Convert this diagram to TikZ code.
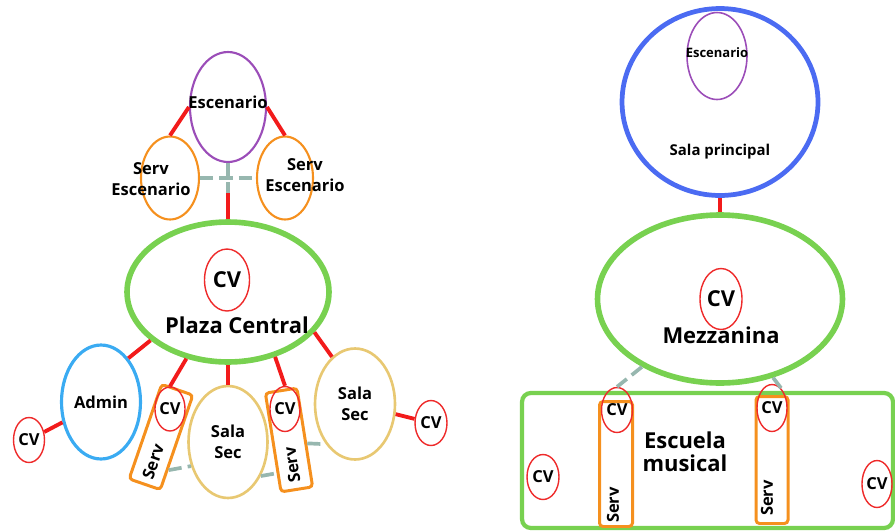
\documentclass[tikz,border=0pt]{standalone}
\usepackage{fontspec}
\setmainfont{Open Sans}
\usepackage{tikz}
\usetikzlibrary{positioning,shapes,calc}
\newcommand{\plansmall}{\fontsize{9.4}{12}\selectfont\bfseries}
\newcommand{\planbig}{\fontsize{12.5}{13}\selectfont\bfseries}
\newcommand{\plantiny}{\fontsize{7.4}{9}\selectfont\bfseries}
\newcommand{\planmid}{\fontsize{8.5}{10}\selectfont\bfseries}
\definecolor{plan_red}{HTML}{f21b1b}
\definecolor{plan_cv}{HTML}{ee2a2a}
\definecolor{plan_grey}{HTML}{97b7af}
\definecolor{plan_purple}{HTML}{9b4db8}
\definecolor{plan_orange}{HTML}{f5901e}
\definecolor{plan_green}{HTML}{78d150}
\definecolor{plan_cyan}{HTML}{3aabf2}
\definecolor{plan_sand}{HTML}{e8c872}
\definecolor{plan_blue}{HTML}{4b6bf2}
\tikzstyle{line} = [draw, line width=2.2pt, plan_red]
\tikzstyle{dash_line} = [draw, line width=2.1pt, plan_grey, dash pattern=on 7.5pt off 3.5pt]
\tikzstyle{default} = [ellipse, draw, inner sep=0pt, text=black, align=center, font=\plansmall]
\tikzstyle{default_text} = [inner sep=0pt, text=black, align=center, font=\plansmall]
\tikzstyle{big_text} = [default_text, font=\planbig]
\tikzstyle{cv} = [default, draw=plan_cv, line width=0.8pt, minimum width=0.62cm, minimum height=0.9cm]
\tikzstyle{escenario} = [default, draw=plan_purple, line width=1.2pt, minimum width=1.52cm, minimum height=2.2cm]
\tikzstyle{serv_esc} = [default, draw=plan_orange, line width=1.2pt, minimum width=1.16cm, minimum height=1.66cm]
\tikzstyle{plaza} = [default, draw=plan_green, line width=3.2pt, minimum width=4.04cm, minimum height=2.8cm]
\tikzstyle{admin} = [default, draw=plan_cyan, line width=1.8pt, minimum width=1.58cm, minimum height=2.28cm]
\tikzstyle{sala} = [default, draw=plan_sand, line width=1.5pt, minimum width=1.58cm, minimum height=2.24cm]
\tikzstyle{sala_ppal} = [default, draw=plan_blue, line width=2.7pt, minimum width=3.92cm, minimum height=3.74cm]
\tikzstyle{serv} = [rectangle, draw=plan_orange, line width=1.7pt, rounded corners=2pt, minimum width=0.66cm, minimum height=2cm]
\tikzstyle{escuela} = [rectangle, draw=plan_green, line width=2.4pt, rounded corners=5pt, minimum width=7.42cm, minimum height=2.7cm]

\begin{document}
\begin{tikzpicture}[x=0.02cm, y=-0.02cm]
   \useasboundingbox (0,0) rectangle (895,531);

   % Escenario
   \node at (228, 107) [escenario] (esc L) {};
   \node at (228, 102) [default_text] (esc L text) {Escenario};
   \node at (170, 178) [serv_esc] (serv esc L) {};
   \node at (151, 179) [default_text] (serv esc L text) {Serv\\Escenario};
   \node at (285, 178) [serv_esc, minimum width=1.12cm] (serv esc R) {};
   \node at (305, 175) [default_text] (serv esc R text) {Serv\\Escenario};
   \coordinate (esc hub) at (228, 193);
   \path [line] (esc L.west) -- (serv esc L.north);
   \path [line] (esc L.east) -- (serv esc R.north);
   \path [dash_line] (esc L.south) -- (esc hub);
   \path [dash_line] (serv esc L.east) -- (serv esc R.west);

   % Plaza Central
   \node at (228, 292) [plaza] (plaza) {};
   \node at (227, 280) [cv, font=\planbig, minimum width=0.9cm, minimum height=1.24cm] (cv plaza) {CV};
   \node at (237, 325) [big_text] (plaza text) {Plaza Central};
   \path [line] (esc hub) -- (plaza.north);

   % Admin
   \node at (101, 402) [admin] (admin) {Admin};
   \node at (29, 440) [cv] (cv admin) {CV};
   \path [line] (plaza.212) -- (admin.58);
   \path [line] (admin) -- (cv admin);

   % Salas secundarias
   \node at (161, 437) [serv, rotate=-19] (serv L) {};
   \node at (153, 462) [default_text, rotate=71] (serv L text) {Serv};
   \node at (170, 409) [cv, minimum width=0.6cm, minimum height=0.88cm] (cv serv L) {CV};
   \path [line] (plaza.238) -- (cv serv L.north);

   \node at (228, 442) [sala] (sala mid) {Sala\\Sec};
   \path [line] (plaza.south) -- (sala mid.north);
   \path [dash_line] ($(serv L.south east)!0.22!(serv L.north east)$) -- (sala mid.213);

   \node at (289, 440) [serv, rotate=9, minimum width=0.64cm] (serv R) {};
   \node at (292, 465) [default_text, rotate=99] (serv R text) {Serv};
   \node at (285, 409) [cv, minimum width=0.6cm] (cv serv R) {CV};
   \path [line] (plaza.306) -- (cv serv R.north);
   \path [dash_line] (sala mid.314) -- ($(serv R.south west)!0.2!(serv R.north west)$);

   \node at (355, 404) [sala, minimum width=1.6cm, minimum height=2.22cm] (sala R) {Sala\\Sec};
   \node at (431, 423) [cv, minimum width=0.64cm] (cv sala R) {CV};
   \path [line] (plaza.335) -- (sala R.116);
   \path [line] (sala R) -- (cv sala R);
   \path [dash_line] ($(serv R.south east)!0.44!(serv R.north east)$) -- (sala R.234);

   % Sala principal
   \node at (720, 102) [sala_ppal] (sala ppal) {};
   \node at (717, 56) [escenario, line width=0.9pt, minimum width=1.2cm, minimum height=1.74cm] (esc R) {};
   \node at (717, 53) [default_text, font=\plantiny] (esc R text) {Escenario};
   \node at (720, 152) [default_text, font=\planmid] (sala ppal text) {Sala principal};

   % Mezzanina
   \node at (720, 299) [plaza, minimum width=4.9cm, minimum height=3.36cm] (mezz) {};
   \node at (721, 299) [cv, font=\planbig, minimum width=0.84cm, minimum height=1.22cm] (cv mezz) {CV};
   \node at (721, 335) [big_text] (mezz text) {Mezzanina};
   \path [line] (sala ppal.south) -- (mezz.north);

   % Escuela musical
   \node at (707.5, 460.5) [escuela] (escuela) {};
   \node at (685, 452) [big_text] (escuela text) {Escuela\\musical};
   \node at (616, 464) [serv, minimum height=2.5cm] (serv EL) {};
   \node at (613, 505) [default_text, rotate=90] (serv EL text) {Serv};
   \node at (617, 410) [cv] (cv EL) {CV};
   \node at (772, 460) [serv, minimum width=0.64cm, minimum height=2.54cm] (serv ER) {};
   \node at (767, 498) [default_text, rotate=90] (serv ER text) {Serv};
   \node at (772, 408) [cv, minimum width=0.6cm, minimum height=0.94cm] (cv ER) {CV};
   \node at (543, 477) [cv, minimum width=0.64cm] (cv escuela L) {CV};
   \node at (877, 484) [cv, minimum width=0.6cm, minimum height=0.94cm] (cv escuela R) {CV};
   \path [dash_line] (mezz.221) -- (cv EL.north);
   \path [dash_line] (mezz.304) -- (cv ER.60);

\end{tikzpicture}
\end{document}
